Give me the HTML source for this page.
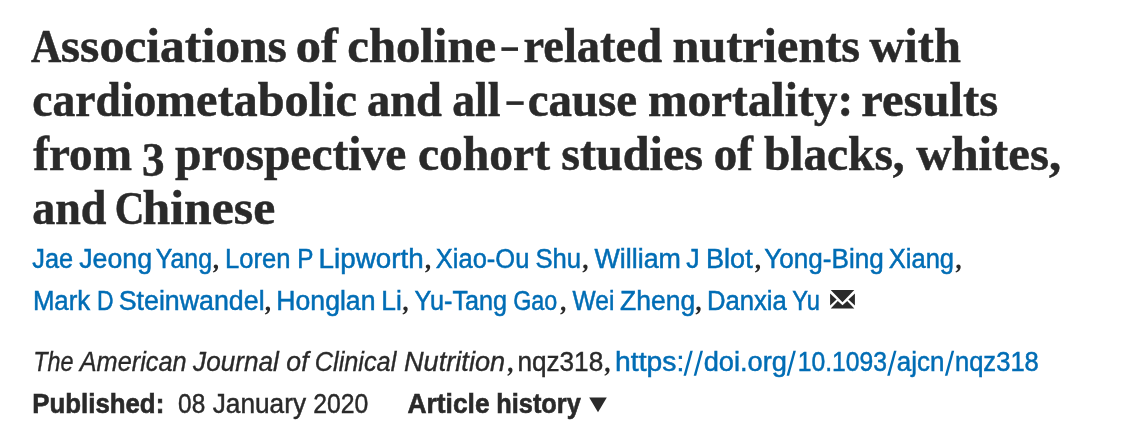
<!DOCTYPE html>
<html><head><meta charset="utf-8"><title>Article</title>
<style>
html,body{margin:0;padding:0;background:#fff;}
body{width:1142px;height:442px;position:relative;overflow:hidden;}
h1,div{margin:0;padding:0;font-size:0;font-weight:normal;}
span,a{position:absolute;left:0;top:0;line-height:1;white-space:pre;transform-origin:0 0;text-decoration:none;display:block;}
.T{font-family:"Liberation Serif",serif;font-weight:700;font-size:48px;color:#2a2a2a;-webkit-text-stroke:0.5px #2a2a2a;}
.TC{font-family:"Liberation Serif",serif;font-weight:700;font-size:46px;color:#2a2a2a;-webkit-text-stroke:0.5px #2a2a2a;}
.B{font-family:"Liberation Sans",sans-serif;font-weight:400;font-size:27px;color:#006db5;-webkit-text-stroke:0.5px #006db5;}
.K{font-family:"Liberation Sans",sans-serif;font-weight:400;font-size:27px;color:#2a2a2a;-webkit-text-stroke:0.45px #2a2a2a;}
.I{font-family:"Liberation Sans",sans-serif;font-weight:400;font-style:italic;font-size:27px;color:#2a2a2a;-webkit-text-stroke:0.35px #2a2a2a;}
.D{font-family:"Liberation Sans",sans-serif;font-weight:700;font-size:27px;color:#2a2a2a;-webkit-text-stroke:0.6px #2a2a2a;}
</style></head><body><div id="w" style="position:absolute;left:0;top:0;width:1142px;height:442px;will-change:transform">
<h1 class="title">
<span class="TC" style="transform:translate(31.00px,24.00px) scaleX(0.9121)">A</span>
<span class="T" style="transform:translate(60.77px,22.00px) scaleX(1.0341)">ssociations</span>
<span class="T" style="transform:translate(295.79px,22.00px) scaleX(1.0538)">of</span>
<span class="T" style="transform:translate(347.29px,22.00px) scaleX(1.0145)">choline</span>
<span class="T" style="transform:translate(523.53px,22.00px) scaleX(0.9676)">related</span>
<span class="T" style="transform:translate(672.60px,22.00px) scaleX(1.0038)">nutrients</span>
<span class="T" style="transform:translate(869.40px,22.00px) scaleX(1.0089)">with</span>
<span class="T" style="transform:translate(32.25px,76.00px) scaleX(0.9500)">cardio</span>
<span class="T" style="transform:translate(155.79px,76.00px) scaleX(1.0066)">metabolic</span>
<span class="T" style="transform:translate(367.03px,76.00px) scaleX(0.9671)">and</span>
<span class="T" style="transform:translate(452.15px,76.00px) scaleX(0.9510)">all</span>
<span class="T" style="transform:translate(527.72px,76.00px) scaleX(0.9773)">cause</span>
<span class="T" style="transform:translate(647.91px,76.00px) scaleX(0.9872)">mortality:</span>
<span class="T" style="transform:translate(861.29px,76.00px) scaleX(1.0128)">results</span>
<span class="T" style="transform:translate(33.30px,130.00px) scaleX(0.9820)">from</span>
<span class="T" style="transform:translate(141.92px,136.00px) scaleX(0.9381)">3</span>
<span class="T" style="transform:translate(175.00px,130.00px) scaleX(0.9897)">prospective</span>
<span class="T" style="transform:translate(417.91px,130.00px) scaleX(0.9909)">cohort</span>
<span class="T" style="transform:translate(561.30px,130.00px) scaleX(1.0029)">studies</span>
<span class="T" style="transform:translate(713.74px,130.00px) scaleX(0.9795)">of</span>
<span class="T" style="transform:translate(763.90px,130.00px) scaleX(0.9865)">blacks,</span>
<span class="T" style="transform:translate(916.30px,130.00px) scaleX(1.0149)">whites,</span>
<span class="T" style="transform:translate(32.24px,184.00px) scaleX(0.9592)">and</span>
<span class="TC" style="transform:translate(114.81px,186.00px) scaleX(0.8929)">C</span>
<span class="T" style="transform:translate(142.56px,184.00px) scaleX(1.0365)">hinese</span>
</h1>
<div class="authors">
<a href="#" class="B" style="transform:translate(32.36px,246.00px) scaleX(0.9381)">Jae</a>
<a href="#" class="B" style="transform:translate(79.21px,246.00px) scaleX(0.9901)">Jeong</a>
<a href="#" class="B" style="transform:translate(155.68px,246.00px) scaleX(0.9220)">Yang</a>
<a href="#" class="B" style="transform:translate(225.11px,246.00px) scaleX(0.9470)">Loren</a>
<a href="#" class="B" style="transform:translate(297.20px,246.00px) scaleX(0.9000)">P</a>
<a href="#" class="B" style="transform:translate(318.54px,246.00px) scaleX(1.0303)">Lipworth</a>
<a href="#" class="B" style="transform:translate(435.86px,246.00px) scaleX(0.9437)">Xiao-Ou</a>
<a href="#" class="B" style="transform:translate(535.45px,246.00px) scaleX(0.9489)">Shu</a>
<a href="#" class="B" style="transform:translate(594.50px,246.00px) scaleX(0.9929)">William</a>
<a href="#" class="B" style="transform:translate(686.31px,246.00px) scaleX(0.9909)">J</a>
<a href="#" class="B" style="transform:translate(705.99px,246.00px) scaleX(1.0044)">Blot</a>
<a href="#" class="B" style="transform:translate(764.23px,246.00px) scaleX(0.9669)">Yong-Bing</a>
<a href="#" class="B" style="transform:translate(888.76px,246.00px) scaleX(0.9448)">Xiang</a>
<a href="#" class="B" style="transform:translate(32.89px,288.00px) scaleX(0.9552)">Mark</a>
<a href="#" class="B" style="transform:translate(97.10px,288.00px) scaleX(0.8500)">D</a>
<a href="#" class="B" style="transform:translate(118.71px,288.00px) scaleX(0.9917)">Steinwandel</a>
<a href="#" class="B" style="transform:translate(276.33px,288.00px) scaleX(0.9856)">Honglan</a>
<a href="#" class="B" style="transform:translate(381.25px,288.00px) scaleX(0.9765)">Li</a>
<a href="#" class="B" style="transform:translate(414.57px,288.00px) scaleX(0.9330)">Yu-Tang</a>
<a href="#" class="B" style="transform:translate(513.14px,288.00px) scaleX(0.8633)">Gao</a>
<a href="#" class="B" style="transform:translate(572.60px,288.00px) scaleX(0.9091)">Wei</a>
<a href="#" class="B" style="transform:translate(620.02px,288.00px) scaleX(0.9811)">Zheng</a>
<a href="#" class="B" style="transform:translate(706.90px,288.00px) scaleX(0.9512)">Danxia</a>
<a href="#" class="B" style="transform:translate(792.22px,288.00px) scaleX(0.8759)">Yu</a>
</div>
<div class="citation">
<span class="I" style="transform:translate(33.27px,349.00px) scaleX(0.8659)">The</span>
<span class="I" style="transform:translate(79.74px,349.00px) scaleX(0.9368)">American</span>
<span class="I" style="transform:translate(193.10px,349.00px) scaleX(0.9674)">Journal</span>
<span class="I" style="transform:translate(286.31px,349.00px) scaleX(0.9875)">of</span>
<span class="I" style="transform:translate(314.76px,349.00px) scaleX(0.9368)">Clinical</span>
<span class="I" style="transform:translate(403.99px,349.00px) scaleX(1.0061)">Nutrition</span>
<span class="K" style="transform:translate(517.47px,349.00px) scaleX(0.9674)">nqz318</span>
<a href="#" class="B" style="transform:translate(615.11px,349.00px) scaleX(1.0468)">https:</a>
<a href="#" class="B" style="transform:translate(703.69px,349.00px) scaleX(1.0087)">doi.org</a>
<a href="#" class="B" style="transform:translate(797.77px,349.00px) scaleX(0.9137)">10.1093</a>
<a href="#" class="B" style="transform:translate(896.74px,349.00px) scaleX(0.9617)">ajcn</a>
<a href="#" class="B" style="transform:translate(954.90px,349.00px) scaleX(0.9477)">nqz318</a>
</div>
<div class="history">
<span class="D" style="transform:translate(32.29px,391.00px) scaleX(0.9560)">Published:</span>
<span class="K" style="transform:translate(178.10px,391.00px) scaleX(0.9036)">08</span>
<span class="K" style="transform:translate(212.70px,391.00px) scaleX(0.9719)">January</span>
<span class="K" style="transform:translate(313.28px,391.00px) scaleX(0.9172)">2020</span>
<span class="D" style="transform:translate(407.42px,391.00px) scaleX(0.9780)">Article</span>
<span class="D" style="transform:translate(496.32px,391.00px) scaleX(0.9386)">history</span>
</div>
<svg style="position:absolute;left:0;top:0" width="1142" height="442" viewBox="0 0 1142 442">
<path transform="translate(212.9 264.5)" d="M3.0 -0.1C4.3 -0.1 5.2 0.9 5.2 2.4C5.2 4.9 3.3 7.1 0.5 8.1L-0.1 7.0C1.4 6.4 2.4 5.3 2.5 4.0C1.5 3.9 0.8 3.1 0.8 2.0C0.8 0.8 1.8 -0.1 3.0 -0.1Z" fill="#2a2a2a"/>
<path transform="translate(425.0 264.5)" d="M3.0 -0.1C4.3 -0.1 5.2 0.9 5.2 2.4C5.2 4.9 3.3 7.1 0.5 8.1L-0.1 7.0C1.4 6.4 2.4 5.3 2.5 4.0C1.5 3.9 0.8 3.1 0.8 2.0C0.8 0.8 1.8 -0.1 3.0 -0.1Z" fill="#2a2a2a"/>
<path transform="translate(582.4 264.5)" d="M3.0 -0.1C4.3 -0.1 5.2 0.9 5.2 2.4C5.2 4.9 3.3 7.1 0.5 8.1L-0.1 7.0C1.4 6.4 2.4 5.3 2.5 4.0C1.5 3.9 0.8 3.1 0.8 2.0C0.8 0.8 1.8 -0.1 3.0 -0.1Z" fill="#2a2a2a"/>
<path transform="translate(754.9 264.5)" d="M3.0 -0.1C4.3 -0.1 5.2 0.9 5.2 2.4C5.2 4.9 3.3 7.1 0.5 8.1L-0.1 7.0C1.4 6.4 2.4 5.3 2.5 4.0C1.5 3.9 0.8 3.1 0.8 2.0C0.8 0.8 1.8 -0.1 3.0 -0.1Z" fill="#2a2a2a"/>
<path transform="translate(955.5 264.5)" d="M3.0 -0.1C4.3 -0.1 5.2 0.9 5.2 2.4C5.2 4.9 3.3 7.1 0.5 8.1L-0.1 7.0C1.4 6.4 2.4 5.3 2.5 4.0C1.5 3.9 0.8 3.1 0.8 2.0C0.8 0.8 1.8 -0.1 3.0 -0.1Z" fill="#2a2a2a"/>
<path transform="translate(264.9 306.5)" d="M3.0 -0.1C4.3 -0.1 5.2 0.9 5.2 2.4C5.2 4.9 3.3 7.1 0.5 8.1L-0.1 7.0C1.4 6.4 2.4 5.3 2.5 4.0C1.5 3.9 0.8 3.1 0.8 2.0C0.8 0.8 1.8 -0.1 3.0 -0.1Z" fill="#2a2a2a"/>
<path transform="translate(402.5 306.5)" d="M3.0 -0.1C4.3 -0.1 5.2 0.9 5.2 2.4C5.2 4.9 3.3 7.1 0.5 8.1L-0.1 7.0C1.4 6.4 2.4 5.3 2.5 4.0C1.5 3.9 0.8 3.1 0.8 2.0C0.8 0.8 1.8 -0.1 3.0 -0.1Z" fill="#2a2a2a"/>
<path transform="translate(560.2 306.5)" d="M3.0 -0.1C4.3 -0.1 5.2 0.9 5.2 2.4C5.2 4.9 3.3 7.1 0.5 8.1L-0.1 7.0C1.4 6.4 2.4 5.3 2.5 4.0C1.5 3.9 0.8 3.1 0.8 2.0C0.8 0.8 1.8 -0.1 3.0 -0.1Z" fill="#2a2a2a"/>
<path transform="translate(695.5 306.5)" d="M3.0 -0.1C4.3 -0.1 5.2 0.9 5.2 2.4C5.2 4.9 3.3 7.1 0.5 8.1L-0.1 7.0C1.4 6.4 2.4 5.3 2.5 4.0C1.5 3.9 0.8 3.1 0.8 2.0C0.8 0.8 1.8 -0.1 3.0 -0.1Z" fill="#2a2a2a"/>
<path transform="translate(507.3 367.7)" d="M3.0 -0.1C4.3 -0.1 5.2 0.9 5.2 2.4C5.2 4.9 3.3 7.1 0.5 8.1L-0.1 7.0C1.4 6.4 2.4 5.3 2.5 4.0C1.5 3.9 0.8 3.1 0.8 2.0C0.8 0.8 1.8 -0.1 3.0 -0.1Z" fill="#2a2a2a"/>
<path transform="translate(604.4 367.7)" d="M3.0 -0.1C4.3 -0.1 5.2 0.9 5.2 2.4C5.2 4.9 3.3 7.1 0.5 8.1L-0.1 7.0C1.4 6.4 2.4 5.3 2.5 4.0C1.5 3.9 0.8 3.1 0.8 2.0C0.8 0.8 1.8 -0.1 3.0 -0.1Z" fill="#2a2a2a"/>
<path d="M683.5 375.7h2.5L692.8 350.8h-2.5Z" fill="#006db5"/>
<path d="M693.7 375.7h2.5L703.0 350.8h-2.5Z" fill="#006db5"/>
<path d="M786.6 375.7h2.5L795.9 350.8h-2.5Z" fill="#006db5"/>
<path d="M887.2 375.7h2.5L896.5 350.8h-2.5Z" fill="#006db5"/>
<path d="M944.9 375.7h2.5L954.2 350.8h-2.5Z" fill="#006db5"/>
<rect x="501.4" y="47.3" width="16.6" height="3.6" fill="#2a2a2a"/>
<rect x="506.4" y="101.3" width="17.3" height="3.6" fill="#2a2a2a"/>
<path transform="translate(830.1 290.1)" d="M0.6 0H24.2L12.4 12.2Z M0 3.3V15.3L6.5 9.4Z M24.8 3.3V15.3L18.3 9.4Z M0.6 18.5H24.2L17.1 10.9L12.4 15.2L7.7 10.9Z" fill="#2a2a2a"/>
<path transform="translate(589.2 397.6)" d="M0 0H17.6L8.8 14.6Z" fill="#2a2a2a"/>
</svg>
</div></body></html>
